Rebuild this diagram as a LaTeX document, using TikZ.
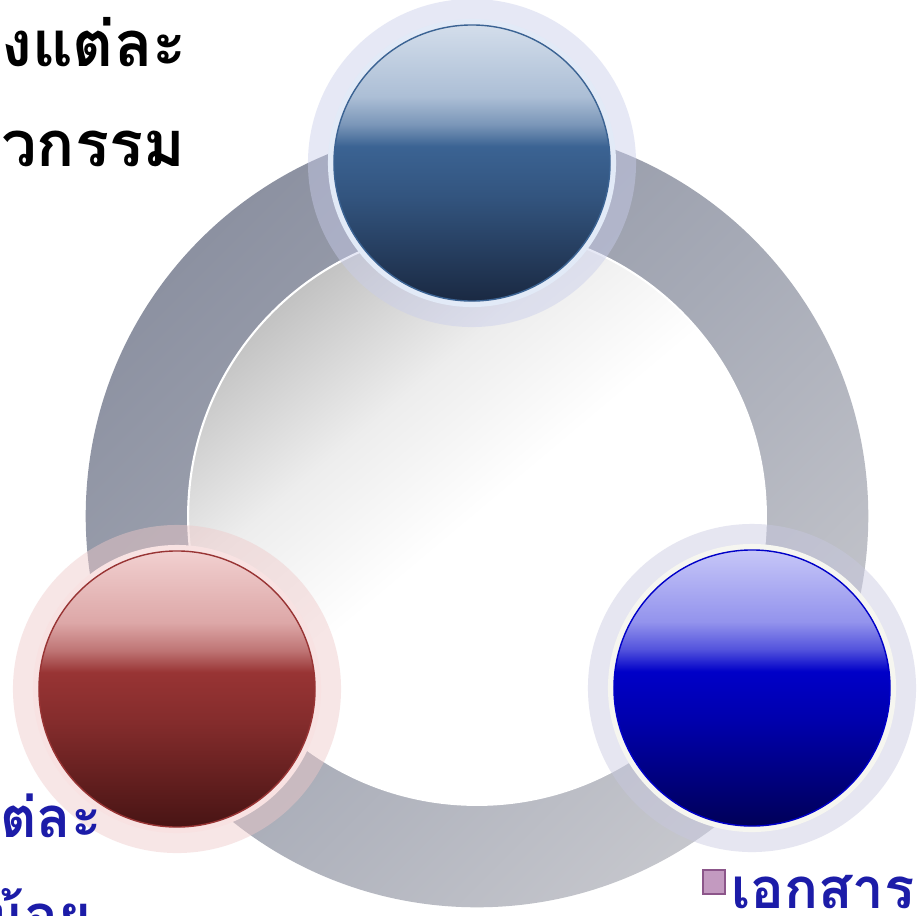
\documentclass[tikz,border=0pt]{standalone}
\usepackage{fontspec}
\usepackage{xcolor}
\usetikzlibrary{positioning}
\newfontfamily\thaifont[Script=Thai]{Loma}

\definecolor{SteelL}{HTML}{C8D5E6}
\definecolor{SteelM}{HTML}{3B6393}
\definecolor{SteelD}{HTML}{1A2942}
\definecolor{RubyL}{HTML}{EEC4C4}
\definecolor{RubyM}{HTML}{983434}
\definecolor{RubyD}{HTML}{481414}
\definecolor{CobaltL}{HTML}{B8B8F6}
\definecolor{CobaltM}{HTML}{0000C8}
\definecolor{CobaltD}{HTML}{000058}
\definecolor{SteelRim}{HTML}{E2EAF7}
\definecolor{SteelHalo}{HTML}{C9CDEB}
\definecolor{RubyRim}{HTML}{F8E2E2}
\definecolor{RubyHalo}{HTML}{EFC9C9}
\definecolor{CobaltRim}{HTML}{F6F6F0}
\definecolor{CobaltHalo}{HTML}{C8C8E0}
\definecolor{RingDark}{HTML}{8C91A1}
\definecolor{RingMid}{HTML}{A6AAB6}
\definecolor{RingLight}{HTML}{C6C7CD}
\definecolor{DiscGrey}{HTML}{C2C2C2}
\definecolor{DiscSoft}{HTML}{EDEDED}
\definecolor{LabelBlue}{HTML}{1C1CA8}
\definecolor{IconFill}{HTML}{C39AC0}
\definecolor{IconEdge}{HTML}{8C568A}

% glossy ball shading, one per colour family
\newcommand\declaregloss[1]{%
  \colorlet{#1A}{#1M!75!#1D}%
  \colorlet{#1B}{#1M!55!#1L}%
  \colorlet{#1C}{#1L!80!#1M}%
  \colorlet{#1T}{#1L!80!white}%
  \pgfdeclareverticalshading{#1gloss}{100bp}{color(0bp)=(#1D); color(25bp)=(#1D);
    color(44bp)=(#1A); color(53bp)=(#1M); color(57bp)=(#1B); color(62bp)=(#1C);
    color(75bp)=(#1T); color(100bp)=(#1T)}}
\declaregloss{Steel}
\declaregloss{Ruby}
\declaregloss{Cobalt}
\pgfdeclareverticalshading{discshade}{100bp}{color(0bp)=(white); color(50bp)=(white);
  color(62bp)=(DiscSoft); color(75bp)=(DiscGrey); color(100bp)=(DiscGrey)}
\pgfdeclareverticalshading{ringshade}{100bp}{color(0bp)=(RingLight); color(25bp)=(RingLight);
  color(50bp)=(RingMid); color(75bp)=(RingDark); color(100bp)=(RingDark)}

\begin{document}
\begin{tikzpicture}[
  x=0.025cm, y=-0.025cm,
  halo/.style={circle, inner sep=0pt, minimum size=8.2cm, fill=#1, fill opacity=.45},
  rim/.style={circle, inner sep=0pt, minimum size=7.2cm, fill=#1},
  gloss/.style={circle, inner sep=0pt, minimum size=6.9cm, draw=#1M, line width=1pt, shading=#1gloss},
  toptext/.style={inner sep=0pt, font=\thaifont\bfseries\fontsize{45}{54}\selectfont, text=black},
  bluetext/.style={inner sep=0pt, font=\thaifont\bfseries\fontsize{40}{48}\selectfont, text=LabelBlue},
  docicon/.style={rectangle, inner sep=0pt, minimum width=0.55cm, minimum height=0.58cm, fill=IconFill, draw=IconEdge, line width=1.5pt}
]
  \useasboundingbox (0,0) rectangle (923,916);
  \fill[white] (0,0) rectangle (923,916);

  % grey ring and inner disc
  \coordinate (hub) at (477,516);
  \shade[even odd rule, shading=ringshade, shading angle=45]
    (hub) circle[radius=9.78cm] (hub) circle[radius=7.22cm];
  \shade[shading=discshade, shading angle=40] (hub) circle[radius=7.22cm];
  \draw[white, line width=1.5pt] (hub) circle[radius=7.22cm];

  % three glossy balls
  \node[halo=SteelHalo] (topglow) at (472,163) {};
  \node[halo=RubyHalo] (redglow) at (177,689) {};
  \node[halo=CobaltHalo] (blueglow) at (752,688) {};
  \node[rim=SteelRim] (toprim) at (472,163) {};
  \node[rim=RubyRim] (redrim) at (177,689) {};
  \node[rim=CobaltRim] (bluerim) at (752,688) {};
  \node[gloss=Steel] (topball) at (472,163) {};
  \node[gloss=Ruby] (redball) at (177,689) {};
  \node[gloss=Cobalt] (blueball) at (752,688) {};

  % texts
  \node[toptext, anchor=base west] (lineA) at (1,66) {งแต่ละ};
  \node[toptext, anchor=base west] (lineB) at (1,166) {วกรรม};
  \node[bluetext, anchor=base west] (redA) at (0,837) {ต่ละ};
  \node[bluetext, anchor=base west] (redB) at (-14,935) {น้อย};
  \node[docicon] (icon) at (714,882) {};
  \node[bluetext, anchor=base west] (docA) at (731,908) {เอกสาร};
\end{tikzpicture}
\end{document}
